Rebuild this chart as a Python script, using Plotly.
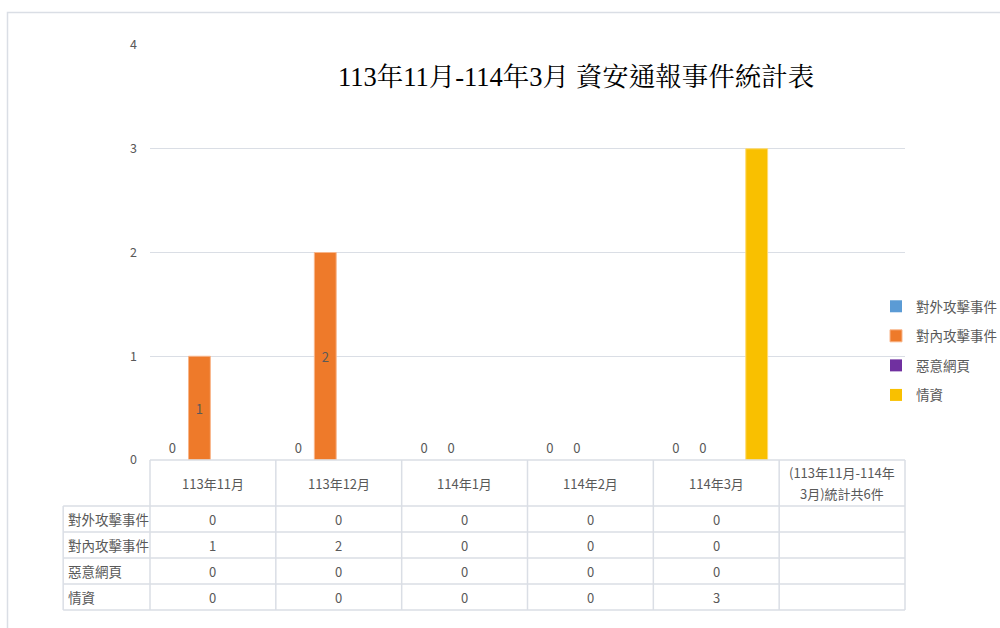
import plotly.graph_objects as go

# ---------------- data ----------------
categories = ["113年11月", "113年12月", "114年1月", "114年2月", "114年3月",
              "(113年11月-114年3月)統計共6件"]
header_labels = ["113年11月", "113年12月", "114年1月", "114年2月", "114年3月",
                 "(113年11月-114年<br>3月)統計共6件"]
series_names = ["對外攻擊事件", "對內攻擊事件", "惡意網頁", "情資"]
external_attack = [0, 0, 0, 0, 0, None]
internal_attack = [1, 2, 0, 0, 0, None]
malicious_web = [0, 0, 0, 0, 0, None]
intelligence = [0, 0, 0, 0, 3, None]
y_ticks = [0, 1, 2, 3, 4]
title_text = "113年11月-114年3月 資安通報事件統計表"

series_values = [external_attack, internal_attack, malicious_web, intelligence]
series_colors = ["#5B9BD5", "#EE7A2A", "#7030A0", "#F9C000"]
series_edges = ["#9DC3E6", "#F8B58A", "#B08FCB", "#FFDB70"]
series_show_labels = [True, True, False, False]

# ---------------- layout geometry (fractions of the figure) ----------------
W, H = 1000, 628
GRID_C = "#dadee5"
TXT_C = "#595959"
FONT = "Noto Sans CJK TC, Noto Sans, sans-serif"

plot_x = [150 / W, 905 / W]
plot_y = [1 - 460 / H, 1 - 45 / H]
n_cat = len(categories)
cat_frac = (plot_x[1] - plot_x[0]) / n_cat

LABEL_W = 0.69     # label column width, in category units
HDR = 46 / 26      # header row height, in body-row units
PAD = 0.04
row_frac = 26 / H

fig = go.Figure()

for name, vals, col, edge, show in zip(series_names, series_values, series_colors,
                                        series_edges, series_show_labels):
    if show:
        text = [("" if v is None else str(v)) for v in vals]
        tpos = [("outside" if (v == 0) else "inside") for v in vals]
    else:
        text = None
        tpos = "none"
    fig.add_trace(go.Bar(
        name=name, x=categories, y=vals,
        marker=dict(color=col, line=dict(color=edge, width=[1 if v else 0 for v in vals])),
        text=text,
        textposition=tpos,
        insidetextanchor="middle",
        textfont=dict(family=FONT, size=13, color=TXT_C),
        insidetextfont=dict(family=FONT, size=13, color=TXT_C),
        outsidetextfont=dict(family=FONT, size=13, color=TXT_C),
        cliponaxis=False,
        legendgroup=name,
        hoverinfo="skip",
    ))

# ---------------- table (own subplot x2/y2) ----------------
n_rows = len(series_names)
x2_range = [-0.5 - LABEL_W - PAD, n_cat - 0.5 + PAD]
x2_domain = [plot_x[0] - (LABEL_W + PAD) * cat_frac, plot_x[1] + PAD * cat_frac]
y2_range = [-n_rows - PAD, HDR + PAD]
y2_domain = [1 - 610 / H - PAD * row_frac, 1 - 460 / H + PAD * row_frac]

shapes = []
line_style = dict(color=GRID_C, width=1.5)
shapes.append(dict(type="line", xref="x2", yref="y2", x0=-0.5, x1=n_cat - 0.5,
                   y0=HDR, y1=HDR, line=line_style))
for k in range(n_rows + 1):
    shapes.append(dict(type="line", xref="x2", yref="y2", x0=-0.5 - LABEL_W, x1=n_cat - 0.5,
                       y0=-k, y1=-k, line=line_style))
for i in range(n_cat + 1):
    shapes.append(dict(type="line", xref="x2", yref="y2", x0=i - 0.5, x1=i - 0.5,
                       y0=-n_rows, y1=HDR, line=line_style))
shapes.append(dict(type="line", xref="x2", yref="y2", x0=-0.5 - LABEL_W, x1=-0.5 - LABEL_W,
                   y0=-n_rows, y1=0, line=line_style))
# outer frame of the chart
shapes.append(dict(type="rect", xref="paper", yref="paper", x0=7.5 / W, x1=1.02,
                   y0=-0.02, y1=1 - 12.5 / H, line=dict(color=GRID_C, width=1.5),
                   fillcolor="rgba(0,0,0,0)", layer="below"))

annotations = []
LINE_STEP = 21 / 26  # header line spacing in row units
for i, lab in enumerate(header_labels):
    lines = lab.split("<br>")
    n = len(lines)
    for j, ln in enumerate(lines):
        yy = HDR / 2 + ((n - 1) / 2 - j) * LINE_STEP
        annotations.append(dict(xref="x2", yref="y2", x=i, y=yy, text=ln, showarrow=False,
                                font=dict(family=FONT, size=13, color=TXT_C), align="center"))
for k, (name, vals) in enumerate(zip(series_names, series_values)):
    annotations.append(dict(xref="x2", yref="y2", x=-0.5 - LABEL_W + 0.02, y=-k - 0.5,
                            text=name, showarrow=False, xanchor="left",
                            font=dict(family=FONT, size=13.5, color=TXT_C)))
    for i, v in enumerate(vals):
        if v is not None:
            annotations.append(dict(xref="x2", yref="y2", x=i, y=-k - 0.5, text=str(v),
                                    showarrow=False,
                                    font=dict(family=FONT, size=13, color=TXT_C)))
annotations.append(dict(xref="paper", yref="paper", x=576 / W, y=1 - 77 / H, text=title_text,
                        showarrow=False, xanchor="center", yanchor="middle",
                        font=dict(family="Liberation Serif, Noto Serif CJK TC, Noto Sans CJK TC, serif",
                                  size=26.5, color="#000000")))

fig.add_trace(go.Scatter(x=[0], y=[0], xaxis="x2", yaxis="y2", mode="markers",
                         marker=dict(opacity=0), showlegend=False, hoverinfo="skip"))

fig.update_layout(
    width=W, height=H,
    margin=dict(l=0, r=0, t=0, b=0, autoexpand=False),
    paper_bgcolor="white", plot_bgcolor="rgba(0,0,0,0)",
    barmode="group", bargap=0.143, bargroupgap=0.19,
    showlegend=True,
    legend=dict(x=0.876, y=1 - 291 / H, xanchor="left", yanchor="top",
                font=dict(family=FONT, size=13.5, color=TXT_C),
                bgcolor="rgba(0,0,0,0)", tracegroupgap=9, itemclick=False),
    xaxis=dict(domain=plot_x, type="category", categoryorder="array", categoryarray=categories,
               range=[-0.5, n_cat - 0.5], showticklabels=False, showgrid=False,
               zeroline=False, showline=False, ticks="", automargin=False),
    yaxis=dict(domain=plot_y, range=[0, 4], tickvals=y_ticks, showgrid=True, gridcolor=GRID_C,
               gridwidth=1, zeroline=False, showline=False, ticks="", automargin=False,
               tickfont=dict(family=FONT, size=12.5, color=TXT_C), ticklabelstandoff=12),
    xaxis2=dict(domain=x2_domain, range=x2_range, visible=False, anchor="y2", fixedrange=True,
                automargin=False),
    yaxis2=dict(domain=y2_domain, range=y2_range, visible=False, anchor="x2", fixedrange=True,
                automargin=False),
    shapes=shapes,
    annotations=annotations,
)

fig.write_html("out.html", config={"displayModeBar": False},
               post_script="document.body.style.margin='0';document.body.style.overflow='hidden';")
